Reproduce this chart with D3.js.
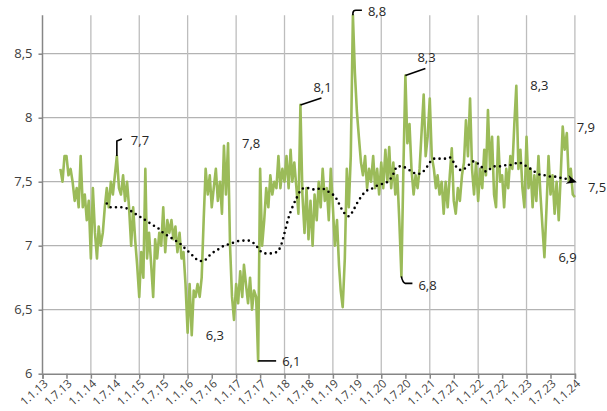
<!DOCTYPE html>
<html>
<head>
<meta charset="utf-8">
<script src="https://cdn.jsdelivr.net/npm/d3@7"></script>
<style>
  html, body { margin: 0; padding: 0; background: #fff; }
  svg { display: block; font-family: "Open Sans", "Noto Sans", sans-serif; }
</style>
</head>
<body>
<svg id="chart" width="607" height="411"></svg>
<script>
// Semi-monthly readings (1st and 16th of each month); 2013 begins on 16 May.
const green2013 = [7.6, 7.5, 7.7, 7.7, 7.55, 7.6, 7.5, 7.35, 7.45, 7.3, 7.7, 7.3, 7.4, 7.2, 7.35];
const green2014 = [6.9, 7.45, 7.1, 6.9, 7.15, 7.0, 7.1, 7.3, 7.45, 7.3, 7.5, 7.4, 7.55, 7.7, 7.45, 7.4, 7.55, 7.35, 7.5, 7.3, 7.0, 7.3, 7.05, 6.85];
const green2015 = [6.6, 6.95, 6.75, 7.6, 6.9, 7.1, 6.85, 6.6, 7.05, 6.9, 7.1, 7.0, 7.3, 6.95, 7.2, 7.1, 7.2, 7.05, 7.15, 6.95, 7.1, 6.9, 6.95, 6.7];
const green2016 = [6.32, 6.7, 6.3, 6.65, 6.6, 6.7, 6.6, 6.75, 7.2, 7.6, 7.4, 7.55, 7.3, 7.45, 7.6, 7.35, 7.5, 7.25, 7.78, 7.4, 7.8, 7.0, 6.6, 6.42];
const green2017 = [6.7, 6.55, 6.8, 6.6, 6.85, 6.7, 6.55, 6.75, 6.5, 6.65, 6.6, 6.1, 7.6, 7.0, 7.2, 7.45, 7.3, 7.55, 7.4, 7.5, 7.45, 7.7, 7.45, 7.6];
const green2018 = [7.5, 7.7, 7.45, 7.75, 7.5, 7.65, 7.45, 7.25, 8.1, 7.4, 7.1, 7.45, 7.05, 7.35, 7.0, 7.4, 7.2, 7.5, 7.3, 7.6, 7.35, 7.45, 7.2, 7.6];
const green2019 = [7.3, 7.0, 7.2, 6.85, 6.65, 6.52, 6.9, 7.6, 7.3, 7.7, 8.8, 8.35, 8.05, 7.85, 7.65, 7.55, 7.7, 7.45, 7.6, 7.5, 7.7, 7.45, 7.6, 7.4];
const green2020 = [7.65, 7.45, 7.75, 7.5, 7.77, 7.45, 7.65, 7.4, 7.55, 7.2, 6.76, 7.6, 8.33, 7.8, 7.95, 7.6, 7.4, 7.55, 7.45, 7.6, 7.9, 8.18, 7.7, 7.85];
const green2021 = [8.15, 7.7, 7.6, 7.45, 7.55, 7.4, 7.5, 7.25, 7.5, 7.3, 7.55, 7.76, 7.35, 7.25, 7.45, 7.35, 7.55, 7.65, 7.98, 7.7, 8.15, 7.6, 7.4, 7.65];
const green2022 = [7.35, 7.6, 7.45, 7.75, 7.55, 8.06, 7.6, 7.85, 7.4, 7.3, 7.85, 7.5, 7.55, 7.3, 7.6, 7.45, 7.7, 7.6, 7.95, 8.25, 7.6, 7.75, 7.45, 7.3];
const green2023 = [7.85, 7.45, 7.6, 7.3, 7.55, 7.35, 7.7, 7.4, 7.15, 6.91, 7.3, 7.7, 7.4, 7.55, 7.25, 7.5, 7.2, 7.55, 7.93, 7.75, 7.88, 7.5, 7.6, 7.4];
const green2024 = [7.38];

// Moving average, one value per month (1st of month); begins May 2014.
const avg2014 = [7.33, 7.30, 7.30, 7.30, 7.30, 7.29, 7.27, 7.25];
const avg2015 = [7.23, 7.21, 7.19, 7.17, 7.15, 7.13, 7.10, 7.08, 7.06, 7.04, 7.02, 6.99];
const avg2016 = [6.96, 6.93, 6.90, 6.88, 6.88, 6.91, 6.94, 6.96, 6.98, 7.00, 7.01, 7.02];
const avg2017 = [7.03, 7.04, 7.04, 7.04, 7.03, 7.00, 6.96, 6.94, 6.94, 6.94, 6.95, 6.99];
const avg2018 = [7.10, 7.22, 7.30, 7.37, 7.43, 7.45, 7.45, 7.44, 7.44, 7.45, 7.44, 7.42];
const avg2019 = [7.40, 7.36, 7.30, 7.25, 7.23, 7.27, 7.33, 7.38, 7.42, 7.44, 7.45, 7.47];
const avg2020 = [7.48, 7.49, 7.51, 7.56, 7.62, 7.62, 7.61, 7.59, 7.57, 7.56, 7.57, 7.60];
const avg2021 = [7.65, 7.68, 7.68, 7.68, 7.68, 7.69, 7.65, 7.60, 7.59, 7.61, 7.64, 7.66];
const avg2022 = [7.64, 7.61, 7.58, 7.60, 7.62, 7.62, 7.62, 7.63, 7.63, 7.64, 7.65, 7.64];
const avg2023 = [7.62, 7.60, 7.58, 7.56, 7.55, 7.55, 7.54, 7.54, 7.53, 7.53, 7.52, 7.51];
const avg2024 = [7.50];

const yTickValues = [6, 6.5, 7, 7.5, 8, 8.5];

// Labelled points: series, year, index within that year's array.
const labelledPoints = [
  ["green", 2014, 13], ["green", 2016, 20], ["green", 2016, 2], ["green", 2017, 11],
  ["green", 2018, 8], ["green", 2019, 10], ["green", 2020, 12], ["green", 2020, 10],
  ["green", 2022, 19], ["green", 2023, 9], ["green", 2023, 18], ["avg", 2024, 0]
];

// ---- assemble dated series ----
const greenYears = [
  [2013, 9, green2013], [2014, 0, green2014], [2015, 0, green2015], [2016, 0, green2016],
  [2017, 0, green2017], [2018, 0, green2018], [2019, 0, green2019], [2020, 0, green2020],
  [2021, 0, green2021], [2022, 0, green2022], [2023, 0, green2023], [2024, 0, green2024]
];
const avgYears = [
  [2014, 4, avg2014], [2015, 0, avg2015], [2016, 0, avg2016], [2017, 0, avg2017],
  [2018, 0, avg2018], [2019, 0, avg2019], [2020, 0, avg2020], [2021, 0, avg2021],
  [2022, 0, avg2022], [2023, 0, avg2023], [2024, 0, avg2024]
];

const green = [], avg = [];
const lookup = { green: {}, avg: {} };
greenYears.forEach(([yr, first, vals]) => {
  lookup.green[yr] = [];
  vals.forEach((v, i) => {
    const h = first + i;
    const d = { date: new Date(yr, Math.floor(h / 2), h % 2 ? 16 : 1), value: v };
    green.push(d); lookup.green[yr].push(d);
  });
});
avgYears.forEach(([yr, first, vals]) => {
  lookup.avg[yr] = [];
  vals.forEach((v, i) => {
    const d = { date: new Date(yr, first + i, 1), value: v };
    avg.push(d); lookup.avg[yr].push(d);
  });
});

// ---- scales ----
const svg = d3.select("#chart");
const x = d3.scaleTime().domain([new Date(2013, 0, 1), new Date(2024, 0, 1)]).range([42.5, 574.9]);
const y = d3.scaleLinear().domain([6, 8.8]).range([373.7, 15.3]);
const comma = v => String(v).replace(".", ",");
const fmt1 = v => d3.format(".1f")(v).replace(".", ",");

const yearTicks = d3.timeYear.range(new Date(2013, 0, 1), new Date(2024, 0, 2));
const halfTicks = d3.timeMonth.every(6).range(new Date(2013, 0, 1), new Date(2024, 0, 2));

// ---- grid ----
const grid = svg.append("g");
grid.selectAll("line.h").data(yTickValues.filter(v => v > 6)).join("line")
  .attr("x1", x.range()[0]).attr("x2", x.range()[1])
  .attr("y1", d => y(d)).attr("y2", d => y(d))
  .attr("stroke", "#b3b3b3").attr("stroke-width", 1.3);
grid.selectAll("line.v").data(yearTicks.slice(1)).join("line")
  .attr("x1", d => x(d)).attr("x2", d => x(d))
  .attr("y1", y(6)).attr("y2", y(8.8))
  .attr("stroke", "#bdbdbd").attr("stroke-width", 1.3);

// ---- axes ----
const yAxis = svg.append("g").attr("transform", `translate(${x.range()[0]},0)`)
  .call(d3.axisLeft(y).tickValues(yTickValues).tickSize(4).tickPadding(6).tickFormat(comma));
yAxis.select(".domain").attr("d", `M0,${y(6)}V${y(8.8)}`);

const xAxis = svg.append("g").attr("transform", `translate(0,${y(6)})`)
  .call(d3.axisBottom(x).tickValues(halfTicks).tickSize(5)
    .tickFormat(d => `${d.getDate()}.${d.getMonth() + 1}.${String(d.getFullYear()).slice(2)}`));

[yAxis, xAxis].forEach(g => {
  g.selectAll(".domain, .tick line").attr("stroke", "#868686").attr("stroke-width", 1.5);
  g.selectAll("text").attr("fill", "#404040").style("font-family", "Open Sans, sans-serif");
});
yAxis.selectAll("text").attr("font-size", 13);
xAxis.selectAll("text").attr("font-size", 11.5)
  .attr("text-anchor", "end").attr("x", 0).attr("y", 0).attr("dy", "0.35em")
  .attr("transform", "translate(3,8) rotate(-42)");

// ---- series ----
const line = d3.line().x(d => x(d.date)).y(d => y(d.value));
svg.append("path").datum(green)
  .attr("d", line).attr("fill", "none")
  .attr("stroke", "#9bbb59").attr("stroke-width", 2.6).attr("stroke-linejoin", "round");

svg.append("defs").append("marker")
  .attr("id", "arrow").attr("viewBox", "0 -5 10 10")
  .attr("refX", 8).attr("refY", 0)
  .attr("markerWidth", 10).attr("markerHeight", 10)
  .attr("markerUnits", "userSpaceOnUse").attr("orient", "auto")
  .append("path").attr("d", "M0,-4.5L10,0L0,4.5L3,0Z").attr("fill", "#000");

svg.append("path").datum(avg)
  .attr("d", d3.line().curve(d3.curveMonotoneX).x(d => x(d.date)).y(d => y(d.value)))
  .attr("fill", "none").attr("stroke", "#000").attr("stroke-width", 2.6)
  .attr("stroke-linecap", "round").attr("stroke-dasharray", "0 5.4")
  .attr("marker-end", "url(#arrow)");

// ---- value labels ----
// Placement of each label relative to its point: [dx, dy, leader path relative to point or null]
const placements = [
  [14, -16, "M0,0V-15L5,-17"],
  [14, 0, null],
  [14, 0, null],
  [24, 1, "M0,0H18"],
  [13, -17, "M0,0L21,-7"],
  [15, -4, "M0,0V-2Q0,-5 3,-5H9"],
  [12, -18, "M0,0L20,-7"],
  [17, 9, "M0,0Q1,6 4,7H11"],
  [14, 0, null],
  [14, 0, null],
  [14, 1, null],
  [13, 6, null]
];
const ann = svg.append("g");
labelledPoints.forEach(([series, yr, idx], k) => {
  const d = lookup[series][yr][idx];
  const px = x(d.date), py = y(d.value);
  const [dx, dy, leader] = placements[k];
  if (leader) {
    ann.append("path").attr("transform", `translate(${px},${py})`).attr("d", leader)
      .attr("fill", "none").attr("stroke", "#000").attr("stroke-width", 1.6);
  }
  ann.append("text").attr("x", px + dx).attr("y", py + dy)
    .attr("dy", "0.35em").attr("font-size", 13).attr("fill", "#262626")
    .text(fmt1(d.value));
});
</script>
</body>
</html>
